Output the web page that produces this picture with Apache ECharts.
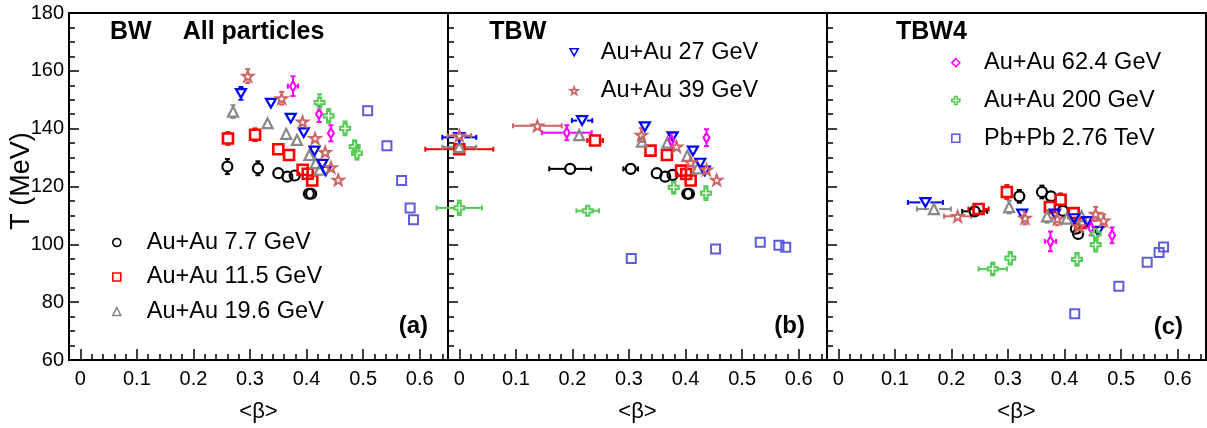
<!DOCTYPE html>
<html><head><meta charset="utf-8">
<script src="https://cdn.jsdelivr.net/npm/echarts@6/dist/echarts.min.js"></script>
<style>html,body{margin:0;padding:0;background:#fff}#c{width:1207px;height:428px}</style>
</head><body><div id="c"></div><script>
// ---------------- data ----------------
const seriesNames = ['Au+Au 7.7 GeV','Au+Au 11.5 GeV','Au+Au 19.6 GeV','Au+Au 27 GeV','Au+Au 39 GeV','Au+Au 62.4 GeV','Au+Au 200 GeV','Pb+Pb 2.76 TeV'];
const panelTitles = ['BW','TBW','TBW4'];
const panelTags = ['(a)','(b)','(c)'];
const yTickValues = [60, 80, 100, 120, 140, 160, 180];
const xTickValues = [0, 0.1, 0.2, 0.3, 0.4, 0.5, 0.6];
const legendA = ['Au+Au 7.7 GeV','Au+Au 11.5 GeV','Au+Au 19.6 GeV'];
const legendB = ['Au+Au 27 GeV','Au+Au 39 GeV'];
const legendC = ['Au+Au 62.4 GeV','Au+Au 200 GeV','Pb+Pb 2.76 TeV'];

// each point: [<beta>, T (MeV), beta error, T error]
// (a) BW, all particles
const BW_7p7  = [[0.260,126.9,0.004,2.6],[0.314,126.3,0.003,2.4],[0.350,124.6,0.003,2.0],[0.366,123.4,0.003,1.8],[0.379,123.8,0.003,2.0],[0.404,117.5,0.003,1.5],[0.408,117.5,0.003,1.5]];
const BW_11p5 = [[0.261,136.6,0.003,2.2],[0.309,137.9,0.003,2.2],[0.350,132.9,0.003,2.0],[0.369,130.9,0.003,1.8],[0.393,125.8,0.003,1.8],[0.402,124.4,0.003,1.8],[0.410,122.1,0.003,1.8]];
const BW_19p6 = [[0.270,145.9,0.003,2.2],[0.331,141.9,0.003,2.0],[0.364,138.2,0.003,1.8],[0.383,136.1,0.003,1.8],[0.405,130.9,0.003,1.8],[0.416,128.1,0.003,1.8],[0.423,125.8,0.003,1.8]];
const BW_27   = [[0.284,152.2,0.003,2.2],[0.337,148.8,0.003,2.0],[0.372,143.6,0.003,1.8],[0.395,138.6,0.003,1.8],[0.414,132.3,0.003,1.8],[0.428,127.7,0.003,1.8],[0.434,125.4,0.003,1.8]];
const BW_39   = [[0.296,158.2,0.003,2.4],[0.356,150.5,0.003,2.2],[0.393,142.4,0.003,2.0],[0.415,136.7,0.003,2.0],[0.433,131.9,0.003,1.9],[0.443,126.6,0.003,1.8],[0.456,122.3,0.003,1.8]];
const BW_62p4 = [[0.376,154.7,0.009,3.4],[0.422,145.1,0.004,2.8],[0.443,138.4,0.004,2.8]];
const BW_200  = [[0.423,149.0,0.004,2.9],[0.439,144.4,0.004,2.4],[0.468,140.1,0.004,2.4],[0.485,133.8,0.004,2.2],[0.489,131.5,0.004,2.2]];
const BW_2760 = [[0.508,146.2,0.003,2.0],[0.542,134.1,0.003,1.6],[0.568,122.1,0.003,1.6],[0.583,112.6,0.003,1.6],[0.589,108.5,0.003,1.6]];
// (b) TBW
const TBW_7p7  = [[0.196,126.1,0.037,2.0],[0.303,126.1,0.013,2.0],[0.349,124.6,0.004,1.8],[0.364,123.4,0.004,1.8],[0.377,124.0,0.004,1.8],[0.403,117.5,0.004,1.5],[0.406,117.5,0.004,1.5]];
const TBW_11p5 = [[0.000,132.9,0.060,1.8],[0.240,135.9,0.014,1.8],[0.338,132.4,0.004,1.8],[0.367,130.9,0.004,1.8],[0.392,125.5,0.004,1.8],[0.401,124.3,0.004,1.8],[0.409,122.1,0.004,1.8]];
const TBW_19p6 = [[0.000,133.6,0.030,1.8],[0.212,137.8,0.010,1.8],[0.323,135.5,0.004,1.8],[0.368,135.2,0.004,1.8],[0.403,130.6,0.004,1.8],[0.421,126.3,0.004,1.8]];
const TBW_27   = [[0.000,137.0,0.030,1.6],[0.217,142.8,0.018,1.8],[0.328,140.7,0.004,1.8],[0.377,137.2,0.004,1.8],[0.413,132.3,0.004,1.8],[0.426,128.1,0.004,1.8],[0.434,125.4,0.004,1.8]];
const TBW_39   = [[0.000,137.6,0.021,1.8],[0.138,141.0,0.043,1.8],[0.322,137.8,0.004,2.4],[0.384,133.8,0.004,2.0],[0.409,128.3,0.004,1.8],[0.437,125.8,0.004,1.8],[0.455,122.3,0.004,1.8]];
const TBW_62p4 = [[0.190,138.6,0.044,2.6],[0.375,135.9,0.008,2.6],[0.437,136.9,0.006,2.9]];
const TBW_200  = [[0.000,112.6,0.040,2.5],[0.227,111.6,0.020,1.8],[0.379,119.7,0.004,2.2],[0.436,117.7,0.004,2.4]];
const TBW_2760 = [[0.304,95.1,0.006,1.6],[0.453,98.4,0.003,1.8],[0.532,100.7,0.003,2.0],[0.565,99.7,0.003,1.8],[0.577,99.0,0.003,1.8]];
// (c) TBW4
const TBW4_7p7  = [[0.241,111.4,0.022,2.0],[0.320,116.6,0.006,2.2],[0.360,118.1,0.004,2.2],[0.376,116.6,0.004,2.0],[0.397,111.6,0.004,2.0],[0.420,105.4,0.004,2.0],[0.424,103.6,0.004,2.0]];
const TBW4_11p5 = [[0.248,112.2,0.018,2.0],[0.298,118.1,0.006,2.4],[0.374,112.9,0.004,2.2],[0.393,115.4,0.004,2.2],[0.416,110.8,0.004,2.0],[0.428,107.4,0.004,2.0]];
const TBW4_19p6 = [[0.169,112.2,0.030,1.8],[0.302,112.9,0.004,2.2],[0.369,109.7,0.004,2.2],[0.404,108.9,0.004,2.0],[0.430,109.7,0.004,2.0]];
const TBW4_27   = [[0.154,114.5,0.031,2.0],[0.325,110.5,0.004,2.0],[0.383,110.5,0.004,2.0],[0.417,108.9,0.004,2.0],[0.440,107.9,0.004,2.0],[0.459,104.5,0.004,2.0]];
const TBW4_39   = [[0.211,109.7,0.024,2.0],[0.330,109.1,0.004,2.2],[0.387,108.8,0.004,2.2],[0.425,106.2,0.004,2.2],[0.455,110.5,0.004,2.4],[0.469,108.2,0.004,2.2]];
const TBW4_62p4 = [[0.375,101.0,0.010,3.4],[0.447,105.7,0.005,2.6],[0.484,103.1,0.004,2.7]];
const TBW4_200  = [[0.273,91.5,0.025,2.2],[0.304,95.2,0.010,2.2],[0.422,94.8,0.004,2.2],[0.455,103.6,0.004,2.4],[0.455,99.9,0.004,2.4]];
const TBW4_2760 = [[0.418,76.0,0.003,1.6],[0.496,85.5,0.003,1.9],[0.546,93.8,0.003,2.0],[0.567,97.2,0.003,2.0],[0.575,99.1,0.003,2.0]];

const panelData = [
  [BW_7p7, BW_11p5, BW_19p6, BW_27, BW_39, BW_62p4, BW_200, BW_2760],
  [TBW_7p7, TBW_11p5, TBW_19p6, TBW_27, TBW_39, TBW_62p4, TBW_200, TBW_2760],
  [TBW4_7p7, TBW4_11p5, TBW4_19p6, TBW4_27, TBW4_39, TBW4_62p4, TBW4_200, TBW4_2760]
];

// ---------------- styles ----------------
const FONT = '"Liberation Sans", Arial, Helvetica, sans-serif';
const STAR = 'path://M0,-100L23.5,-32.4L95.1,-30.9L38,12.4L58.8,80.9L0,40L-58.8,80.9L-38,12.4L-95.1,-30.9L-23.5,-32.4Z';
const CROSS = 'path://M-33,-100L33,-100L33,-33L100,-33L100,33L33,33L33,100L-33,100L-33,33L-100,33L-100,-33L-33,-33Z';
const DOWNTRI = 'path://M-100,-87L100,-87L0,87Z';
const markerStyles = [
  {color:'#000000', symbol:'circle',   size:10,     bw:2.2, gap:5},
  {color:'#ff0000', symbol:'rect',     size:10,     bw:2.6, gap:5},
  {color:'#888888', symbol:'triangle', size:10,     bw:2.2, gap:5},
  {color:'#0000ff', symbol:DOWNTRI,    size:10,     bw:2.2, gap:5},
  {color:'#cc6666', symbol:STAR,       size:11,     bw:2,   gap:5},
  {color:'#ff00ff', symbol:'diamond',  size:[6,10], bw:2.2, gap:4},
  {color:'#55cc55', symbol:CROSS,      size:10,     bw:2,   gap:5},
  {color:'#5c5cdc', symbol:'rect',     size:9,      bw:2,   gap:5}
];

const grids = [
  {left:69,  top:13, width:379, height:348},
  {left:448, top:13, width:379, height:348},
  {left:827, top:13, width:379, height:348}
];

function errRender(color, gap) {
  return function (params, api) {
    const x = api.value(0), y = api.value(1), xe = api.value(2), ye = api.value(3);
    const c = api.coord([x, y]);
    const xl = api.coord([x - xe, y])[0], xr = api.coord([x + xe, y])[0];
    const yt = api.coord([x, y + ye])[1], yb = api.coord([x, y - ye])[1];
    const cap = 2.5, segs = [];
    if (c[0] - xl > gap + 1) { segs.push([xl, c[1], c[0] - gap, c[1]]); segs.push([xl, c[1] - cap, xl, c[1] + cap]); }
    if (xr - c[0] > gap + 1) { segs.push([c[0] + gap, c[1], xr, c[1]]); segs.push([xr, c[1] - cap, xr, c[1] + cap]); }
    if (c[1] - yt > gap + 1) { segs.push([c[0], yt, c[0], c[1] - gap]); segs.push([c[0] - cap, yt, c[0] + cap, yt]); }
    if (yb - c[1] > gap + 1) { segs.push([c[0], c[1] + gap, c[0], yb]); segs.push([c[0] - cap, yb, c[0] + cap, yb]); }
    return {type:'group', children: segs.map(s => ({
      type:'line', shape:{x1:s[0], y1:s[1], x2:s[2], y2:s[3]},
      style:{stroke:color, lineWidth:2}
    }))};
  };
}

const xAxes = [], yAxes = [];
grids.forEach((g, i) => {
  xAxes.push({
    type:'value', gridIndex:i, min:-0.02, max:0.65, position:'bottom',
    name:'<β>', nameLocation:'middle', nameGap:41,
    nameTextStyle:{fontSize:22, color:'#000', fontFamily:FONT},
    axisLine:{show:true, onZero:false, lineStyle:{color:'#000', width:2}},
    axisTick:{show:true, inside:true, length:11, lineStyle:{color:'#000', width:1.5}, customValues:xTickValues},
    axisLabel:{show:true, customValues:xTickValues, fontSize:20, color:'#000', fontFamily:FONT, margin:9,
      formatter: v => (Math.round(v * 10) / 10).toString()},
    splitLine:{show:false}
  });
  xAxes.push({
    type:'value', gridIndex:i, min:-0.02, max:0.65, interval:0.02, position:'bottom',
    axisLine:{show:false, onZero:false},
    axisTick:{show:true, inside:true, length:6, lineStyle:{color:'#000', width:1.5}},
    axisLabel:{show:false}, splitLine:{show:false}
  });
  yAxes.push({
    type:'value', gridIndex:i, min:60, max:180, interval:20, position:'left',
    axisLine:{show:true, onZero:false, lineStyle:{color:'#000', width:2}},
    axisTick:{show:true, inside:true, length:10, lineStyle:{color:'#000', width:1.5}},
    minorTick:{show:true, splitNumber:4, length:6, lineStyle:{color:'#000', width:1.5}},
    axisLabel:{show:i === 0, fontSize:20, color:'#000', fontFamily:FONT, margin:5},
    splitLine:{show:false}, minorSplitLine:{show:false}
  });
});

const scatterSeries = [], errSeries = [];
panelData.forEach((sets, i) => {
  sets.forEach((data, k) => {
    const m = markerStyles[k];
    errSeries.push({
      type:'custom', name:seriesNames[k] + ' err ' + i, xAxisIndex:2 * i, yAxisIndex:i,
      data:data, encode:{x:0, y:1}, renderItem:errRender(m.color, m.gap), z:2, silent:true
    });
    scatterSeries.push({
      type:'scatter', name:seriesNames[k], xAxisIndex:2 * i, yAxisIndex:i,
      data:data.map(p => [p[0], p[1]]),
      symbol:m.symbol, symbolSize:m.size, symbolKeepAspect:true,
      itemStyle:{color:'rgba(0,0,0,0)', borderColor:m.color, borderWidth:m.bw, opacity:1},
      emphasis:{disabled:true}, z:3, silent:true
    });
  });
});

function legendCfg(names, left, top, gap, padLeft) {
  return {
    data:names, orient:'vertical', left:left, top:top, padding:0, itemGap:gap,
    itemWidth:8, itemHeight:8, selectedMode:false,
    textStyle:{fontSize:23.5, color:'#000', fontFamily:FONT, lineHeight:24, padding:[0, 0, 0, padLeft]},
    itemStyle:{borderWidth:1.6}
  };
}

const texts = [
  {t:'BW', x:110, y:32, s:25, w:'bold', a:'left'},
  {t:'All particles', x:182.7, y:32, s:25, w:'bold', a:'left'},
  {t:panelTitles[1], x:489.3, y:32, s:25, w:'bold', a:'left'},
  {t:panelTitles[2], x:896, y:32, s:25, w:'bold', a:'left'},
  {t:panelTags[0], x:428, y:326.6, s:24, w:'bold', a:'right'},
  {t:panelTags[1], x:805, y:326.6, s:24, w:'bold', a:'right'},
  {t:panelTags[2], x:1183, y:327, s:24, w:'bold', a:'right'}
];
const graphics = texts.map(o => ({
  type:'text', x:o.x, y:o.y, silent:true,
  style:{text:o.t, fill:'#000', font:o.w + ' ' + o.s + 'px ' + FONT, align:o.a, verticalAlign:'middle'}
}));
graphics.push({type:'text', x:22, y:181, rotation:Math.PI / 2, silent:true,
  style:{text:'T (MeV)', fill:'#000', font:'27px ' + FONT, align:'center', verticalAlign:'middle'}});

const chart = echarts.init(document.getElementById('c'), null, {renderer:'canvas'});
chart.setOption({
  animation:false,
  backgroundColor:'#fff',
  grid:grids.map(g => Object.assign({show:true, borderColor:'#000', borderWidth:2, backgroundColor:'rgba(0,0,0,0)', containLabel:false}, g)),
  xAxis:xAxes, yAxis:yAxes,
  legend:[
    legendCfg(legendA, 112, 230.5, 10.5, 21),
    legendCfg(legendB, 569.3, 40.3, 14.4, 17.7),
    legendCfg(legendC, 951, 50.7, 13.8, 19.3)
  ],
  graphic:graphics,
  series:scatterSeries.concat(errSeries)
});
</script></body></html>
